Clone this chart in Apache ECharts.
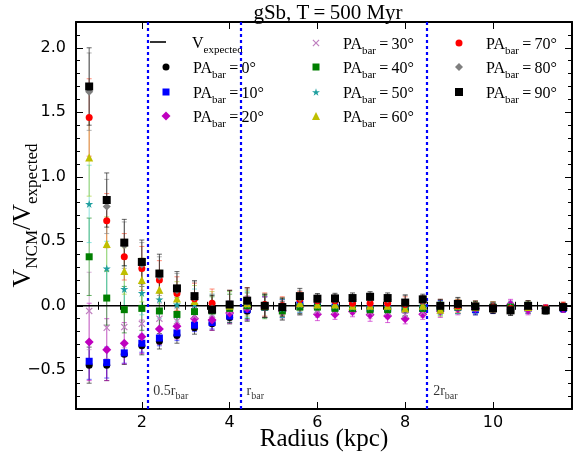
<!DOCTYPE html>
<html>
<head>
<meta charset="utf-8">
<script src="https://cdn.jsdelivr.net/npm/echarts@6/dist/echarts.min.js"></script>
<style>
  html, body { margin: 0; padding: 0; background: #fff; }
  #chart { width: 573px; height: 464px; }
</style>
</head>
<body>
<div id="chart"></div>
<script>
// Radial velocity ratio V_NCM / V_expected for several bar position angles
const radius = [0.8, 1.2, 1.6, 2.0, 2.4, 2.8, 3.2, 3.6, 4.0, 4.4, 4.8, 5.2, 5.6, 6.0,
                6.4, 6.8, 7.2, 7.6, 8.0, 8.4, 8.8, 9.2, 9.6, 10.0, 10.4, 10.8, 11.2, 11.6];

const pa0  = [-0.46, -0.46, -0.375, -0.31, -0.275, -0.23, -0.17, -0.14, -0.09, -0.04, -0.01, -0.02, 0.0, -0.01,
              -0.01, -0.01, -0.02, -0.02, -0.03, -0.02, -0.01, -0.01, -0.03, -0.02, -0.03, -0.02, -0.03, -0.02];
const pa10 = [-0.43, -0.44, -0.365, -0.29, -0.25, -0.21, -0.15, -0.13, -0.08, -0.03, -0.01, -0.02, 0.01, 0.0,
              -0.01, -0.01, -0.02, -0.02, -0.03, -0.02, -0.01, -0.01, -0.03, -0.02, -0.02, -0.02, -0.03, -0.02];
const pa20 = [-0.28, -0.34, -0.29, -0.24, -0.18, -0.158, -0.10, -0.11, -0.055, -0.02, -0.01, -0.04, -0.01, -0.065,
              -0.065, -0.045, -0.07, -0.08, -0.10, -0.065, -0.04, -0.02, -0.02, -0.01, 0.01, -0.03, -0.02, -0.02];
const pa30 = [-0.04, -0.17, -0.165, -0.14, -0.10, -0.12, -0.08, -0.07, -0.04, -0.01, -0.01, -0.03, -0.01, -0.04,
              -0.04, -0.03, -0.05, -0.05, -0.07, -0.05, -0.03, -0.01, -0.02, -0.01, 0.0, -0.02, -0.02, -0.01];
const pa40 = [0.38, 0.06, -0.03, -0.02, -0.04, -0.067, -0.045, -0.04, -0.02, 0.0, -0.01, -0.04, -0.01, -0.01,
              -0.02, -0.02, -0.03, -0.03, -0.02, -0.02, -0.02, -0.01, -0.01, -0.01, -0.01, -0.01, -0.03, -0.01];
const pa50 = [0.79, 0.29, 0.13, 0.10, 0.05, 0.01, 0.01, -0.02, 0.0, 0.01, 0.0, -0.02, 0.01, 0.0,
              0.0, -0.01, -0.01, -0.01, -0.02, -0.01, -0.02, -0.01, -0.02, -0.01, -0.01, -0.01, -0.03, -0.01];
const pa60 = [1.15, 0.48, 0.27, 0.20, 0.125, 0.057, 0.037, 0.0, 0.0, 0.02, 0.0, -0.01, 0.02, 0.01,
              0.01, 0.0, 0.0, 0.0, -0.02, 0.0, -0.03, 0.0, -0.01, -0.01, -0.02, -0.01, -0.03, -0.01];
const pa70 = [1.46, 0.66, 0.38, 0.29, 0.20, 0.095, 0.055, 0.02, 0.01, 0.04, 0.01, 0.0, 0.05, 0.04,
              0.04, 0.02, 0.02, 0.02, 0.01, 0.04, 0.0, 0.0, 0.0, -0.01, -0.02, 0.0, -0.02, 0.0];
const pa80 = [1.66, 0.77, 0.47, 0.32, 0.23, 0.12, 0.065, -0.02, 0.01, 0.03, 0.0, -0.01, 0.06, 0.05,
              0.05, 0.05, 0.06, 0.05, 0.02, 0.04, 0.0, 0.01, 0.0, -0.015, -0.03, 0.0, -0.03, -0.01];
const pa90 = [1.70, 0.82, 0.49, 0.34, 0.25, 0.135, 0.075, -0.03, 0.01, 0.04, 0.0, -0.01, 0.075, 0.055,
              0.057, 0.06, 0.07, 0.06, 0.025, 0.05, 0.0, 0.015, -0.005, -0.02, -0.035, 0.0, -0.035, -0.01];

// 1-sigma uncertainties
const errLow  = [0.14, 0.12, 0.08, 0.07, 0.06, 0.06, 0.05, 0.05, 0.05, 0.08, 0.08, 0.07, 0.06, 0.05,
                 0.04, 0.04, 0.04, 0.04, 0.05, 0.04, 0.05, 0.05, 0.04, 0.04, 0.04, 0.04, 0.03, 0.03];
const errMid  = [0.30, 0.24, 0.16, 0.13, 0.12, 0.10, 0.09, 0.08, 0.08, 0.09, 0.08, 0.07, 0.06, 0.05,
                 0.04, 0.04, 0.05, 0.05, 0.04, 0.04, 0.05, 0.05, 0.04, 0.04, 0.04, 0.04, 0.03, 0.03];
const errHigh = [0.30, 0.21, 0.18, 0.17, 0.15, 0.13, 0.12, 0.11, 0.11, 0.10, 0.09, 0.07, 0.06, 0.04,
                 0.04, 0.04, 0.04, 0.04, 0.06, 0.04, 0.05, 0.05, 0.04, 0.04, 0.04, 0.04, 0.03, 0.03];

const angles = [0, 10, 20, 30, 40, 50, 60, 70, 80, 90];
const expectedValue = 0;
const rBar = 4.25;
const barMarks = [0.5, 1, 2];
const barMarkText = ['0.5', '', '2'];

const xMin = 0.5, xMax = 11.8, yMin = -0.8, yMax = 2.2;
const xLabels = [2, 4, 6, 8, 10];
const yLabels = [-0.5, 0.0, 0.5, 1.0, 1.5, 2.0];

const STAR = 'path://M50,0 L61,35 L98,35 L68,57 L79,91 L50,70 L21,91 L32,57 L2,35 L39,35 Z';
const CROSS = 'path://M0,12 L12,0 L50,38 L88,0 L100,12 L62,50 L100,88 L88,100 L50,62 L12,100 L0,88 L38,50 Z';

const styles = [
  { values: pa0,  err: errLow,  color: '#000000', bar: '#000000', symbol: 'circle',   size: 7 },
  { values: pa10, err: errLow,  color: '#0000ff', bar: '#0000ff', symbol: 'rect',     size: 7 },
  { values: pa20, err: errMid,  color: '#bf00bf', bar: '#bf00bf', symbol: 'diamond',  size: 9 },
  { values: pa30, err: errMid,  color: '#bf7fbf', bar: '#bf7fbf', symbol: CROSS,      size: 7 },
  { values: pa40, err: errHigh, color: '#007f00', bar: '#007f00', symbol: 'rect',     size: 7 },
  { values: pa50, err: errHigh, color: '#1f9f9f', bar: '#40d0c8', symbol: STAR,       size: 8 },
  { values: pa60, err: errHigh, color: '#bfbf00', bar: '#a0cc20', symbol: 'triangle', size: 8 },
  { values: pa70, err: errHigh, color: '#ff0000', bar: '#ff4020', symbol: 'circle',   size: 7 },
  { values: pa80, err: errHigh, color: '#7f7f7f', bar: '#7f7f7f', symbol: 'diamond',  size: 8 },
  { values: pa90, err: errHigh, color: '#000000', bar: '#000000', symbol: 'rect',     size: 8 }
];

const SERIF = '"Liberation Serif", "DejaVu Serif", serif';
const SANS = '"DejaVu Sans", sans-serif';
const range = (a, b, s) => { const out = []; for (let v = a; v <= b + 1e-9; v += s) out.push(Math.round(v * 100) / 100); return out; };

const seriesName = a => 'PA' + a;
const richText = {
  n: { fontFamily: SERIF, fontSize: 16, color: '#000', lineHeight: 20, verticalAlign: 'bottom' },
  s: { fontFamily: SERIF, fontSize: 11, color: '#000', lineHeight: 14, verticalAlign: 'bottom', padding: [0, 0, -4, 0] }
};

const series = [];

// expected-velocity reference line, plus the bar-radius markers
series.push({
  name: 'Vexp',
  type: 'line',
  data: [[xMin, expectedValue], [xMax, expectedValue]],
  symbol: 'none',
  itemStyle: { color: '#000' },
  lineStyle: { color: '#000', width: 1.5 },
  z: 3,
  markLine: {
    silent: true,
    symbol: 'none',
    label: { show: false },
    lineStyle: { color: '#0000ff', width: 2.2, type: [3, 3] },
    data: barMarks.map(m => ({ xAxis: m * rBar }))
  }
});

series.push({
  name: 'barLabels',
  type: 'scatter',
  symbolSize: 0,
  data: barMarks.map((m, i) => ({ value: [m * rBar, -0.645], tag: barMarkText[i] })),
  label: {
    show: true,
    position: 'right',
    distance: 6,
    formatter: p => '{n|' + p.data.tag + 'r}{s|bar}',
    rich: {
      n: { fontFamily: SERIF, fontSize: 14, color: '#000', verticalAlign: 'bottom', lineHeight: 18 },
      s: { fontFamily: SERIF, fontSize: 10, color: '#000', verticalAlign: 'bottom', lineHeight: 12, padding: [0, 0, -3, 0] }
    }
  },
  silent: true,
  z: 4
});

// error bars with caps
styles.forEach((st, k) => {
  series.push({
    name: 'err' + angles[k],
    type: 'custom',
    clip: true,
    z: 2,
    data: radius.map((r, i) => [r, st.values[i], st.err[i]]),
    encode: { x: 0, y: 1 },
    renderItem: (params, api) => {
      const x = api.value(0), y = api.value(1), e = api.value(2);
      const top = api.coord([x, y + e]);
      const bot = api.coord([x, y - e]);
      const hw = 2.5;
      const style = { stroke: st.bar, lineWidth: 1, opacity: 0.6 };
      return {
        type: 'group',
        children: [
          { type: 'line', shape: { x1: top[0], y1: top[1], x2: bot[0], y2: bot[1] }, style },
          { type: 'line', shape: { x1: top[0] - hw, y1: top[1], x2: top[0] + hw, y2: top[1] }, style },
          { type: 'line', shape: { x1: bot[0] - hw, y1: bot[1], x2: bot[0] + hw, y2: bot[1] }, style }
        ]
      };
    }
  });
});

// markers
styles.forEach((st, k) => {
  series.push({
    name: seriesName(angles[k]),
    type: 'scatter',
    data: radius.map((r, i) => [r, st.values[i]]),
    symbol: st.symbol,
    symbolSize: st.size,
    itemStyle: { color: st.color, opacity: 1 },
    z: 5 + k
  });
});

// legend: three columns; marker entries are centred in a 32px slot like the line sample
const legendCols = [150, 300, 443];
const legendRows = [43, 67, 92, 116];
const legendItems = [{ name: 'Vexp', col: 0, row: 0 }].concat(
  angles.map((a, k) => {
    const slot = k + 1;
    return { name: seriesName(a), col: Math.floor(slot / 4), row: slot % 4, size: styles[k].size };
  })
);
const legendFormatter = name => {
  if (name === 'Vexp') return '{n|V}{s|expected}';
  return '{n|PA}{s|bar}{n|\u2009=\u2009' + name.slice(2) + '\u00b0}';
};
const legends = legendItems.map(it => {
  if (it.name === 'Vexp') {
    return {
      data: [{ name: it.name, icon: 'path://M0,0 L100,0 L100,10 L0,10 Z' }],
      left: legendCols[it.col], top: legendRows[it.row] - 7,
      itemWidth: 32, itemHeight: 1.6, itemGap: 0, padding: 0, selectedMode: false,
      textStyle: { rich: richText, padding: [0, 0, 0, 13] },
      formatter: legendFormatter
    };
  }
  const s = it.size;
  return {
    data: [it.name],
    left: legendCols[it.col] + 16 - s / 2,
    top: legendRows[it.row] - 6,
    itemWidth: s, itemHeight: s, itemGap: 0, padding: 0, selectedMode: false,
    textStyle: { rich: richText, padding: [0, 0, 0, 22 - s / 2] },
    formatter: legendFormatter
  };
});

const axisLine = { show: true, onZero: false, lineStyle: { color: '#000', width: 2 } };
const minorX = range(1, 11.5, 0.5);
const minorY = range(-0.7, 2.1, 0.1);

const option = {
  animation: false,
  backgroundColor: '#fff',
  title: {
    text: 'gSb, T\u2009=\u2009500 Myr',
    left: 323,
    textAlign: 'center',
    top: -2,
    textStyle: { fontFamily: SERIF, fontSize: 21, fontWeight: 'normal', color: '#000' }
  },
  legend: legends,
  grid: { left: 76, right: 1, top: 22, bottom: 55, containLabel: false, outerBoundsMode: 'none' },
  xAxis: [
    {
      type: 'value', min: xMin, max: xMax, position: 'bottom',
      axisLine,
      axisTick: { show: true, inside: true, length: 7, customValues: xLabels, lineStyle: { color: '#000', width: 1 } },
      axisLabel: { customValues: xLabels, fontFamily: SANS, fontSize: 16, color: '#000', margin: 6 },
      splitLine: { show: false },
      name: 'Radius (kpc)', nameLocation: 'middle', nameGap: 18, nameMoveOverlap: false,
      nameTextStyle: { fontFamily: SERIF, fontSize: 25, color: '#000' }
    },
    {
      type: 'value', min: xMin, max: xMax, position: 'bottom',
      axisLine: { show: false },
      axisTick: { show: true, inside: true, length: 4, customValues: minorX, lineStyle: { color: '#000', width: 1 } },
      axisLabel: { show: false }, splitLine: { show: false }
    },
    {
      type: 'value', min: xMin, max: xMax, position: 'top',
      axisLine,
      axisTick: { show: true, inside: true, length: 7, customValues: xLabels, lineStyle: { color: '#000', width: 1 } },
      axisLabel: { show: false }, splitLine: { show: false }
    },
    {
      type: 'value', min: xMin, max: xMax, position: 'top',
      axisLine: { show: false },
      axisTick: { show: true, inside: true, length: 4, customValues: minorX, lineStyle: { color: '#000', width: 1 } },
      axisLabel: { show: false }, splitLine: { show: false }
    }
  ],
  yAxis: [
    {
      type: 'value', min: yMin, max: yMax, position: 'left',
      axisLine,
      axisTick: { show: true, inside: true, length: 7, customValues: yLabels, lineStyle: { color: '#000', width: 1 } },
      axisLabel: {
        customValues: yLabels, fontFamily: SANS, fontSize: 16, color: '#000', margin: 10,
        formatter: v => v.toFixed(1).replace('-', '\u2212')
      },
      splitLine: { show: false },
      name: '{n|V}{s|NCM}{n|/V}{s|expected}',
      nameLocation: 'middle', nameGap: 40, nameRotate: 90, nameMoveOverlap: false,
      nameTextStyle: {
        rich: {
          n: { fontFamily: SERIF, fontSize: 26, color: '#000', verticalAlign: 'bottom', lineHeight: 28 },
          s: { fontFamily: SERIF, fontSize: 17, color: '#000', verticalAlign: 'bottom', lineHeight: 18, padding: [0, 0, -5, 0] }
        }
      }
    },
    {
      type: 'value', min: yMin, max: yMax, position: 'left',
      axisLine: { show: false },
      axisTick: { show: true, inside: true, length: 4, customValues: minorY, lineStyle: { color: '#000', width: 1 } },
      axisLabel: { show: false }, splitLine: { show: false }
    },
    {
      type: 'value', min: yMin, max: yMax, position: 'right',
      axisLine,
      axisTick: { show: true, inside: true, length: 7, customValues: yLabels, lineStyle: { color: '#000', width: 1 } },
      axisLabel: { show: false }, splitLine: { show: false }
    },
    {
      type: 'value', min: yMin, max: yMax, position: 'right',
      axisLine: { show: false },
      axisTick: { show: true, inside: true, length: 4, customValues: minorY, lineStyle: { color: '#000', width: 1 } },
      axisLabel: { show: false }, splitLine: { show: false }
    }
  ],
  series
};

const chart = echarts.init(document.getElementById('chart'), null, { renderer: 'canvas' });
chart.setOption(option);
</script>
</body>
</html>
